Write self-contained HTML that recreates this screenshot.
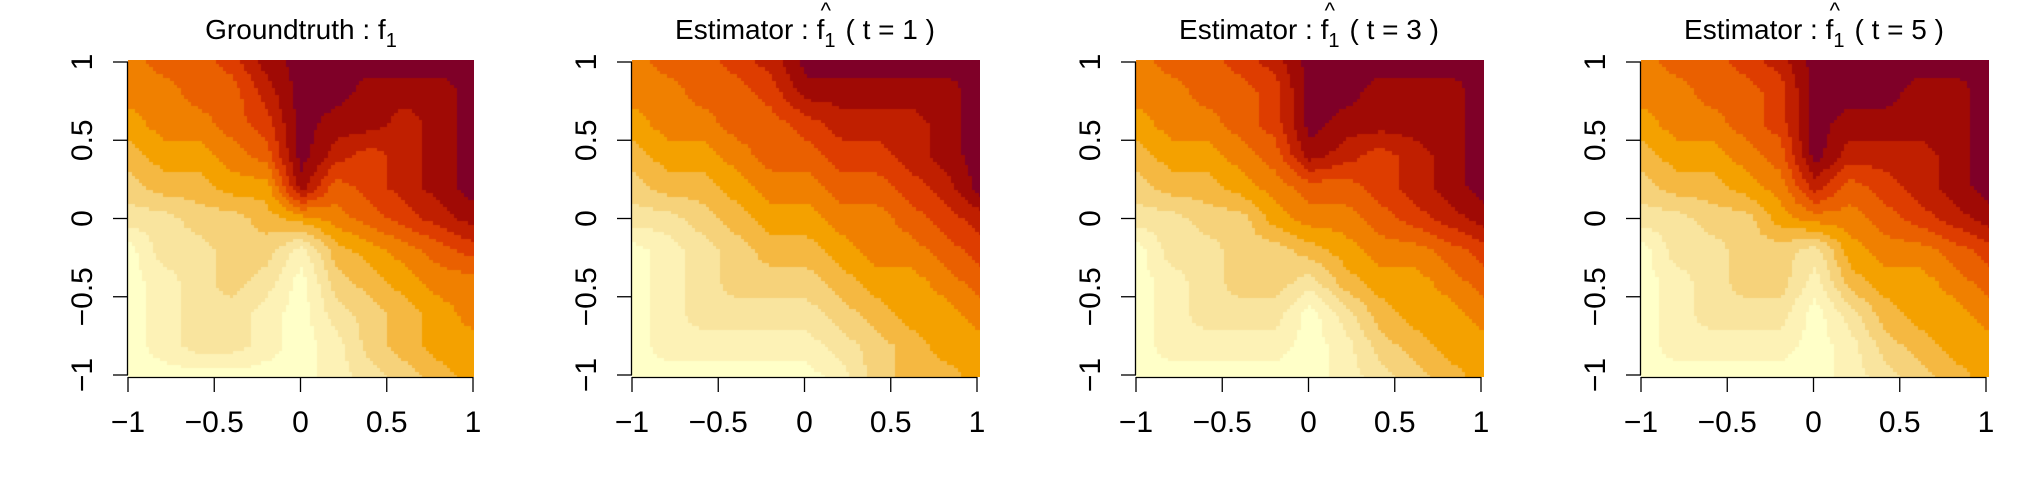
<!DOCTYPE html>
<html><head><meta charset="utf-8">
<style>
html,body{margin:0;padding:0;background:#fff;}
#root{position:relative;width:2019px;height:504px;overflow:hidden;font-family:"Liberation Sans",Arial,sans-serif;}
canvas{position:absolute;}
svg{position:absolute;left:0;top:0;}
</style></head>
<body>
<div id="root">
<canvas id="c0" width="346" height="317" style="left:128px;top:60px"></canvas>
<canvas id="c1" width="348" height="317" style="left:632px;top:60px"></canvas>
<canvas id="c2" width="348" height="317" style="left:1136px;top:60px"></canvas>
<canvas id="c3" width="348" height="317" style="left:1641px;top:60px"></canvas>
<svg id="ax" width="2019" height="504"></svg>
</div>
<script>
// level palette (0 = pale yellow ... 11 = maroon)
const palette = ["#FFFFC8","#FDF2B6","#F9E49E","#F6D27A","#F5B841","#F4A100","#F08000","#EA6000","#DE3D00","#C01F00","#A00A05","#7F0028"];
// grid x = -1..1 step 0.2 ; rows from y=1 down to y=-1
const gridX = [-1,-0.8,-0.6,-0.4,-0.2,0,0.2,0.4,0.6,0.8,1];
const gridY = [1,0.8,0.6,0.4,0.2,0,-0.2,-0.4,-0.6,-0.8,-1];
const levelsTruth = [
[6,7,7,8,10,11,11,11,11,11,11],
[6,6,7,7,9,11,11,10,10,10,11],
[5,6,6,7,8,11,10,10,9,10,11],
[4,5,5,6,7,11,9,8,9,10,11],
[3,4,4,5,5,10,7,8,9,10,11],
[2,2,3,3,4,5,6,7,8,9,10],
[0,2,2,3,3,1,4,5,6,7,8],
[0,1,2,3,2,0,3,4,5,6,6],
[0,1,2,2,1,0,2,3,4,5,6],
[0,1,2,2,1,0,1,3,4,5,5],
[0,0,0,0,0,0,1,2,3,4,5]];
const levelsT1 = [
[6,7,7,8,9,11,11,11,11,11,11],
[6,6,7,7,8,10,10,10,10,10,11],
[5,6,6,7,7,8,9,9,9,10,11],
[4,5,5,6,7,7,8,8,9,10,11],
[3,4,4,5,6,6,7,7,8,9,11],
[2,2,3,4,5,5,6,6,7,8,9],
[0,1,2,3,4,4,5,6,6,7,8],
[0,1,2,3,3,3,4,5,5,6,7],
[0,1,2,2,2,2,3,4,5,5,6],
[0,1,1,1,1,1,2,3,4,5,5],
[0,0,0,0,0,0,1,3,4,4,5]];
const levelsT3 = [
[6,7,7,8,9,11,11,11,11,11,11],
[6,6,7,7,8,11,11,10,10,10,11],
[5,6,6,7,8,11,10,10,10,10,11],
[4,5,5,6,7,10,9,8,9,10,11],
[3,4,4,5,6,7,7,8,9,10,11],
[2,2,3,3,5,6,6,7,8,9,10],
[0,2,2,3,3,4,5,6,6,7,8],
[0,1,2,3,3,2,4,5,5,6,7],
[0,1,2,2,2,0,2,4,5,5,6],
[0,1,1,1,1,0,1,3,4,5,5],
[0,0,0,0,0,0,1,2,3,4,5]];
const levelsT5 = [
[6,7,7,8,9,11,11,11,11,11,11],
[6,6,7,7,8,11,11,11,10,10,11],
[5,6,6,7,8,11,10,10,10,10,11],
[4,5,5,6,7,11,9,9,9,10,11],
[3,4,4,5,6,9,7,8,9,10,11],
[2,2,3,3,5,6,6,7,8,9,10],
[0,2,2,3,3,2,5,6,6,7,8],
[0,1,2,3,3,1,4,5,5,6,7],
[0,1,2,2,2,0,2,4,5,5,6],
[0,1,1,1,1,0,1,3,4,5,5],
[0,0,0,0,0,0,1,2,3,4,5]];
const tickVals = [-1,-0.5,0,0.5,1];
const tickLabels = ["\u22121","\u22120.5","0","0.5","1"];
const panelLeft = [128,632,1136,1641];
const panelW = 346, panelTop = 60, panelH = 317;

function hex(c){return [parseInt(c.substr(1,2),16),parseInt(c.substr(3,2),16),parseInt(c.substr(5,2),16)];}
const pal = palette.map(hex);
function sample(L,x,y){
  const gx=(x+1)/0.2, gy=(1-y)/0.2;
  let i=Math.min(9,Math.max(0,Math.floor(gx))), j=Math.min(9,Math.max(0,Math.floor(gy)));
  const fx=gx-i, fy=gy-j;
  return L[j][i]*(1-fx)*(1-fy)+L[j][i+1]*fx*(1-fy)+L[j+1][i]*(1-fx)*fy+L[j+1][i+1]*fx*fy;
}
function drawHeat(id,L){
  const cv=document.getElementById(id), ctx=cv.getContext('2d');
  const W=cv.width,H=cv.height, img=ctx.createImageData(W,H);
  const cell=3.5;
  for(let py=0;py<H;py++)for(let px=0;px<W;px++){
    const qx=Math.floor(px/cell)*cell+cell/2, qy=Math.floor(py/cell)*cell+cell/2;
    const x=-1+2*qx/W, y=1-2*qy/H;
    let v=Math.round(sample(L,x,y)); v=Math.max(0,Math.min(11,v));
    const c=pal[v], k=(py*W+px)*4;
    img.data[k]=c[0];img.data[k+1]=c[1];img.data[k+2]=c[2];img.data[k+3]=255;
  }
  ctx.putImageData(img,0,0);
}
drawHeat('c0',levelsTruth);
drawHeat('c1',levelsT1);
drawHeat('c2',levelsT3);
drawHeat('c3',levelsT5);

const svg=document.getElementById('ax'), NS="http://www.w3.org/2000/svg";
function mk(tag,attrs,parent){const e=document.createElementNS(NS,tag);for(const k in attrs)e.setAttribute(k,attrs[k]);(parent||svg).appendChild(e);return e;}
const titles=[["Groundtruth : f",""],["Estimator : f","( t = 1 )"],["Estimator : f","( t = 3 )"],["Estimator : f","( t = 5 )"]];
const names=["groundtruth","estimator-t1","estimator-t3","estimator-t5"];
panelLeft.forEach((L,p)=>{
  const g=mk('g',{});
  
  
  const xs=v=>L+(v+1)/2*(panelW-1), ys=v=>panelTop+2+(1-v)/2*(panelH-4);
  const xa=mk('line',{x1:xs(-1),x2:xs(1),y1:377.5,y2:377.5,stroke:'#000','stroke-width':1.3},g);
  
  
  const ya=mk('line',{x1:L-0.5,x2:L-0.5,y1:ys(1),y2:ys(-1),stroke:'#000','stroke-width':1.3},g);
  
  
  tickVals.forEach((v,i)=>{
    const t=mk('line',{x1:xs(v),x2:xs(v),y1:377,y2:392,stroke:'#000','stroke-width':1.3},g);
    
    
    const tl=mk('text',{x:xs(v),y:432,'font-size':30,'text-anchor':'middle',fill:'#000'},g);
    tl.textContent=tickLabels[i];
    
    
    const u=mk('line',{x1:L-15,x2:L,y1:ys(v),y2:ys(v),stroke:'#000','stroke-width':1.3},g);
    
    
    const yl=mk('text',{x:0,y:0,'font-size':30,'text-anchor':'middle',fill:'#000',transform:`translate(${L-36},${ys(v)}) rotate(-90)`},g);
    yl.textContent=tickLabels[i];
    
    
  });
  const cx=L+panelW/2;
  const tt=mk('text',{x:cx,y:39,'font-size':28,'text-anchor':'middle',fill:'#000'},g);
  
  
  const a=mk('tspan',{},tt); a.textContent=titles[p][0];
  const s=mk('tspan',{dy:8,'font-size':20},tt); s.textContent="1";
  if(titles[p][1]){const b=mk('tspan',{dy:-8,dx:10},tt); b.textContent=titles[p][1];}
  if(p>0){
    const bb=tt.getBBox();
    const hatX = bb.x+0.58*bb.width;
    const h=mk('text',{x:hatX,y:18,'font-size':22,'text-anchor':'middle',fill:'#000'},g);
    h.textContent="^";
    
    
  }
});
</script>
</body></html>
